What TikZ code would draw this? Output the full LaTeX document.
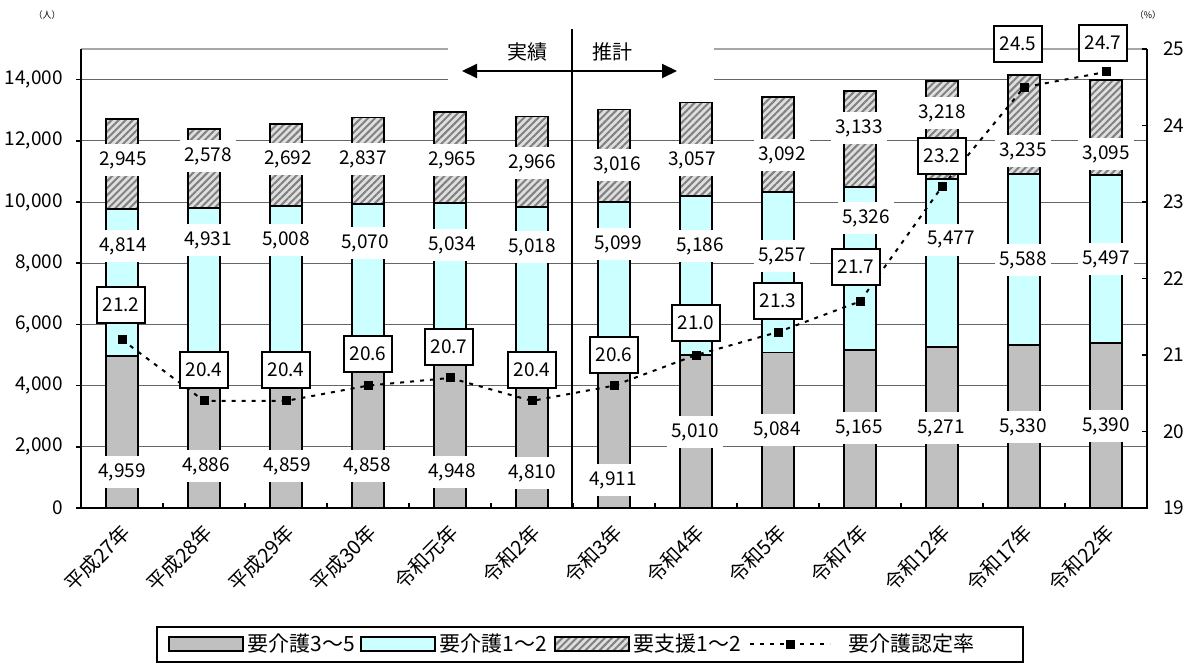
\documentclass[tikz,border=0pt]{standalone}
\usepackage{fontspec}
\setmainfont{Noto Sans CJK JP}
\usetikzlibrary{positioning,arrows.meta,patterns.meta}
\definecolor{barg}{HTML}{C0C0C0}
\definecolor{barc}{HTML}{CCFFFF}
\tikzset{
  bar/.style={draw=black, line width=1.8pt},
  hatch/.style={bar, preaction={fill=gray!25}, pattern={Lines[angle=45,distance=5pt,line width=2pt]}, pattern color=black!50},
  grid/.style={draw=black!60, line width=1pt},
  val/.style={fill=white, inner xsep=4pt, inner ysep=7pt, font=\fontsize{19}{19}\selectfont},
  ratebox/.style={draw, line width=1.8pt, fill=white, minimum width=48pt, minimum height=36pt, inner sep=0pt, font=\fontsize{19}{19}\selectfont},
  rmark/.style={fill=black, minimum size=9pt, inner sep=0pt},
  rateline/.style={line width=2pt, dash pattern=on 4pt off 6pt},
  axl/.style={font=\fontsize{19}{19}\selectfont, inner sep=0pt},
  xl/.style={font=\fontsize{20}{20}\selectfont, rotate=45, anchor=north east, inner sep=0pt},
  sw/.style={draw, line width=1.5pt, minimum width=74pt, minimum height=14pt, inner sep=0pt, anchor=west},
  lt/.style={font=\fontsize{21}{21}\selectfont, inner sep=0pt}
}
\begin{document}
\begin{tikzpicture}[x=1pt, y=-1pt]
\useasboundingbox (0,0) rectangle (1192,663);
\foreach \v in {2000,4000,...,14000}
  \draw[grid] (81,{508-0.0306*\v}) -- (1147,{508-0.0306*\v});
\draw[draw=gray!70, line width=2pt] (81,49) -- (1147,49);
\foreach \a/\b/\c [count=\i] in {4959/4814/2945, 4886/4931/2578, 4859/5008/2692, 4858/5070/2837, 4948/5034/2965, 4810/5018/2966, 4911/5099/3016, 5010/5186/3057, 5084/5257/3092, 5165/5326/3133, 5271/5477/3218, 5330/5588/3235, 5390/5497/3095}{
  \pgfmathsetmacro\xc{40+82*\i}
  \pgfmathsetmacro\ya{508-0.0306*\a}
  \pgfmathsetmacro\yb{\ya-0.0306*\b}
  \pgfmathsetmacro\yc{\yb-0.0306*\c}
  \draw[bar, fill=barg] (\xc-16,508) rectangle (\xc+16,\ya);
  \draw[bar, fill=barc] (\xc-16,\ya) rectangle (\xc+16,\yb);
  \draw[hatch] (\xc-16,\yb) rectangle (\xc+16,\yc);
}
\fill[white] (448,24) rectangle (714,87);
\coordinate (dtop) at (572,29);
\coordinate (dbot) at (572,508);
\draw[line width=1.5pt] (dtop) -- (dbot);
\coordinate (al) at (462,71);
\coordinate (ar) at (677,71);
\draw[line width=2pt, {Triangle[length=15pt,width=14pt]}-{Triangle[length=15pt,width=14pt]}] (al) -- (ar);
\node[font=\fontsize{20}{20}\selectfont] (jis) at (527,52) {実績};
\node[font=\fontsize{20}{20}\selectfont] (sui) at (612,52) {推計};
\draw[line width=2pt] (81,49) -- (81,508) -- (1147,508) -- (1147,49);
\foreach \v/\t in {0/0, 2000/{2,000}, 4000/{4,000}, 6000/{6,000}, 8000/{8,000}, 10000/{10,000}, 12000/{12,000}, 14000/{14,000}}{
  \draw[line width=1.5pt] (76,{508-0.0306*\v}) -- (81,{508-0.0306*\v});
  \node[axl, anchor=east] (yl\v) at (63,{508-0.0306*\v}) {\t};
}
\foreach \p in {19,...,25}{
  \draw[line width=1.5pt] (1142,{508-76.5*(\p-19)}) -- (1147,{508-76.5*(\p-19)});
  \node[axl, anchor=west] (yr\p) at (1163,{508-76.5*(\p-19)}) {\p};
}
\foreach \i in {1,...,12}
  \draw[line width=1.5pt] ({81+82*\i},508) -- ({81+82*\i},503);
\node[font=\fontsize{9}{9}\selectfont] (unitl) at (47,15) {（人）};
\node[font=\fontsize{9}{9}\selectfont] (unitr) at (1148,15) {（\%）};
\foreach \p [count=\i] in {21.2,20.4,20.4,20.6,20.7,20.4,20.6,21.0,21.3,21.7,23.2,24.5,24.7}
  \coordinate (r\i) at ({40+82*\i},{508-76.5*(\p-19)});
\draw[rateline] (r1) \foreach \i in {2,...,13}{ -- (r\i)};
\foreach \i in {1,...,13}
  \node[rmark] (m\i) at (r\i) {};
\foreach \x/\y/\t [count=\i] in {122/472/{4,959}, 206/466/{4,886}, 287/466/{4,859}, 367/466/{4,858}, 452/472/{4,948}, 532/473/{4,810}, 613/480/{4,911}, 695/432/{5,010}, 777/430/{5,084}, 859/428/{5,165}, 941/428/{5,271}, 1023/427/{5,330}, 1106/426/{5,390}}
  \node[val] (ga\i) at (\x,\y) {\t};
\foreach \x/\y/\t [count=\i] in {123/246/{4,814}, 208/240/{4,931}, 286/240/{5,008}, 365/243/{5,070}, 452/245/{5,034}, 532/247/{5,018}, 618/244/{5,099}, 700/246/{5,186}, 782/256/{5,257}, 866/218/{5,326}, 951/240/{5,477}, 1023/260/{5,588}, 1106/259/{5,497}}
  \node[val] (cy\i) at (\x,\y) {\t};
\foreach \x/\y/\t [count=\i] in {123/160/{2,945}, 208/156/{2,578}, 288/159/{2,692}, 363/159/{2,837}, 452/160/{2,965}, 532/163/{2,966}, 617/165/{3,016}, 692/160/{3,057}, 782/155/{3,092}, 859/128/{3,133}, 942/113/{3,218}, 1023/151/{3,235}, 1106/154/{3,095}}
  \node[val] (ht\i) at (\x,\y) {\t};
\foreach \x/\y/\t [count=\i] in {121/305/21.2, 204/370/20.4, 286/370/20.4, 368/354/20.6, 449/347/20.7, 532/370/20.4, 614/355/20.6, 696/323/21.0, 778/301/21.3, 856/267/21.7, 942/156/23.2, 1018/44/24.5, 1103/43/24.7}
  \node[ratebox] (rb\i) at (\x,\y) {\t};
\foreach \t [count=\i] in {平成27年,平成28年,平成29年,平成30年,令和元年,令和2年,令和3年,令和4年,令和5年,令和7年,令和12年,令和17年,令和22年}
  \node[xl] (xl\i) at ({38+82*\i},522) {\t};
\draw[line width=1.5pt] (157,627) rectangle (1023,662);
\node[sw, fill=barg] (lg1) at (168,644) {};
\node[lt, right=4pt of lg1] (lt1) {要介護3〜5};
\node[sw, fill=barc] (lg2) at (360,644) {};
\node[lt, right=4pt of lg2] (lt2) {要介護1〜2};
\node[sw, preaction={fill=gray!25}, pattern={Lines[angle=45,distance=5pt,line width=2pt]}, pattern color=black!50] (lg3) at (554,644) {};
\node[lt, right=4pt of lg3] (lt3) {要支援1〜2};
\coordinate (ls1) at (750,644);
\coordinate (ls2) at (830,644);
\draw[rateline] (ls1) -- (ls2);
\node[rmark] (lm) at (790,644) {};
\node[lt, anchor=west] (lt4) at (848,644) {要介護認定率};
\end{tikzpicture}
\end{document}
